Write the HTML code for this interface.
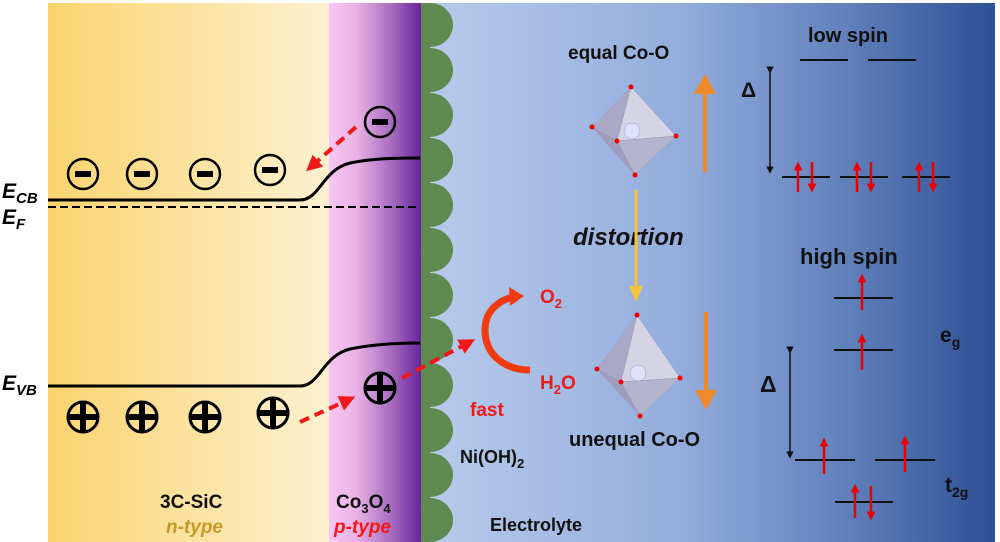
<!DOCTYPE html>
<html><head><meta charset="utf-8"><style>
html,body{margin:0;padding:0;background:#fff;}
svg{display:block;}
text{font-family:"Liberation Sans",Arial,sans-serif;font-weight:bold;}
</style></head><body>
<svg width="1000" height="542" viewBox="0 0 1000 542" xmlns="http://www.w3.org/2000/svg">
<defs>
<linearGradient id="y" x1="0" x2="1"><stop offset="0" stop-color="#fbd46f"/><stop offset="1" stop-color="#fdf1d0"/></linearGradient>
<linearGradient id="p" x1="0" x2="1"><stop offset="0" stop-color="#f8c6f4"/><stop offset="0.3" stop-color="#eab2e4"/><stop offset="0.7" stop-color="#a267bd"/><stop offset="1" stop-color="#67249a"/></linearGradient>
<linearGradient id="b" x1="0" x2="1"><stop offset="0" stop-color="#b8cbeb"/><stop offset="0.45" stop-color="#94addd"/><stop offset="0.75" stop-color="#5f7fba"/><stop offset="1" stop-color="#2d4f94"/></linearGradient>
<marker id="ar" viewBox="0 0 10 10" markerWidth="4" markerHeight="4" refX="5" refY="5" orient="auto" markerUnits="strokeWidth"><path d="M0,0 L10,5 L0,10 z" fill="#f01818"/></marker>
<marker id="ak" viewBox="0 0 10 10" markerWidth="5" markerHeight="5" refX="5" refY="5" orient="auto"><path d="M0,0 L10,5 L0,10 z" fill="#111"/></marker>
<marker id="as" viewBox="0 0 10 10" markerWidth="3.5" markerHeight="3.5" refX="5" refY="5" orient="auto"><path d="M0,0 L10,5 L0,10 z" fill="#e00"/></marker>
</defs>
<rect x="48" y="3" width="281" height="539" fill="url(#y)"/>
<rect x="420" y="3" width="575" height="539" fill="url(#b)"/>
<g fill="#5e8a50">
<rect x="420" y="3" width="10" height="539"/>
<ellipse cx="430" cy="25" rx="23" ry="22"/><ellipse cx="430" cy="70" rx="23" ry="22"/><ellipse cx="430" cy="115" rx="23" ry="22"/><ellipse cx="430" cy="160" rx="23" ry="22"/><ellipse cx="430" cy="205" rx="23" ry="22"/><ellipse cx="430" cy="250" rx="23" ry="22"/><ellipse cx="430" cy="295" rx="23" ry="22"/><ellipse cx="430" cy="340" rx="23" ry="22"/><ellipse cx="430" cy="385" rx="23" ry="22"/><ellipse cx="430" cy="430" rx="23" ry="22"/><ellipse cx="430" cy="475" rx="23" ry="22"/><ellipse cx="430" cy="520" rx="23" ry="22"/>
</g>
<rect x="329" y="3" width="92" height="539" fill="url(#p)"/>
<!-- bands -->
<path d="M48,200 L300,200 C320,200 322,170 350,163 C375,158 400,158 420,158" stroke="#000" stroke-width="3" fill="none"/>
<line x1="48" y1="207" x2="420" y2="207" stroke="#000" stroke-width="2" stroke-dasharray="8,4"/>
<path d="M48,386 L300,386 C320,386 322,356 350,349 C375,344 400,343 420,343" stroke="#000" stroke-width="3" fill="none"/>
<text x="2" y="198" font-size="21" font-style="italic">E<tspan font-size="15" dy="5">CB</tspan></text>
<text x="2" y="224" font-size="21" font-style="italic">E<tspan font-size="15" dy="5">F</tspan></text>
<text x="2" y="390" font-size="21" font-style="italic">E<tspan font-size="15" dy="5">VB</tspan></text>
<g stroke="#000" stroke-width="2.5" fill="none">
<circle cx="83" cy="174" r="15"/><circle cx="142" cy="174" r="15"/><circle cx="205" cy="174" r="15"/><circle cx="270" cy="170" r="15"/><circle cx="380" cy="122" r="15"/>
</g>
<g fill="#000"><rect x="75" y="171" width="16" height="6"/><rect x="134" y="171" width="16" height="6"/><rect x="197" y="171" width="16" height="6"/><rect x="262" y="167" width="16" height="6"/><rect x="372" y="119" width="16" height="6"/></g>
<g stroke="#000" stroke-width="3" fill="none">
<circle cx="83" cy="417" r="15"/><circle cx="142" cy="417" r="15"/><circle cx="205" cy="417" r="15"/><circle cx="273" cy="413" r="15"/><circle cx="380" cy="388" r="15"/>
</g>
<g stroke="#000" stroke-width="6">
<line x1="69" y1="417" x2="97" y2="417"/><line x1="83" y1="403" x2="83" y2="431"/>
<line x1="128" y1="417" x2="156" y2="417"/><line x1="142" y1="403" x2="142" y2="431"/>
<line x1="191" y1="417" x2="219" y2="417"/><line x1="205" y1="403" x2="205" y2="431"/>
<line x1="259" y1="413" x2="287" y2="413"/><line x1="273" y1="399" x2="273" y2="427"/>
<line x1="366" y1="388" x2="394" y2="388"/><line x1="380" y1="374" x2="380" y2="402"/>
</g>
<g stroke="#f01818" stroke-width="4" stroke-dasharray="10,6" fill="none" marker-end="url(#ar)">
<line x1="356" y1="127" x2="312" y2="166"/>
<line x1="300" y1="422" x2="348" y2="400"/>
<line x1="402" y1="378" x2="468" y2="343"/>
</g>
<path d="M530,370 C505,370 485,355 485,330 C485,310 500,300 513,297" stroke="#f03a10" stroke-width="7" fill="none"/>
<path d="M509,287 L524,296 L510,306 z" fill="#f03a10"/>
<text x="540" y="303" font-size="19" fill="#f01818">O<tspan font-size="13" dy="5">2</tspan></text>
<text x="540" y="389" font-size="19" fill="#f01818">H<tspan font-size="13" dy="5">2</tspan><tspan dy="-5">O</tspan></text>
<text x="470" y="416" font-size="19" fill="#f01818">fast</text>
<text x="460" y="463" font-size="18" fill="#111">Ni(OH)<tspan font-size="13" dy="5">2</tspan></text>
<text x="490" y="531" font-size="18" fill="#111">Electrolyte</text>
<text x="160" y="508" font-size="19" fill="#111">3C-SiC</text>
<text x="166" y="533" font-size="19" fill="#c49a2a" font-style="italic">n-type</text>
<text x="336" y="508" font-size="19" fill="#111">Co<tspan font-size="13" dy="5">3</tspan><tspan dy="-5">O</tspan><tspan font-size="13" dy="5">4</tspan></text>
<text x="334" y="533" font-size="19" fill="#f01818" font-style="italic">p-type</text>
<g stroke="#9a9ab8" stroke-width="0.5">
<path d="M631,87 L592,127 L617,141 z" fill="#a9a9c7"/>
<path d="M631,87 L617,141 L676,136 z" fill="#d4d4e4"/>
<path d="M592,127 L617,141 L635,175 z" fill="#9d9dbd"/>
<path d="M617,141 L676,136 L635,175 z" fill="#b4b4cf"/>
<circle cx="632" cy="131" r="8" fill="#dfe0fb"/>
<path d="M637,315 L597,369 L621,382 z" fill="#a9a9c7"/>
<path d="M637,315 L621,382 L680,378 z" fill="#d4d4e4"/>
<path d="M597,369 L621,382 L640,416 z" fill="#9d9dbd"/>
<path d="M621,382 L680,378 L640,416 z" fill="#b4b4cf"/>
<circle cx="638" cy="373" r="8" fill="#dfe0fb"/>
</g>
<g fill="#e00"><circle cx="631" cy="87" r="2.5"/><circle cx="592" cy="127" r="2.5"/><circle cx="676" cy="136" r="2.5"/><circle cx="635" cy="175" r="2.5"/><circle cx="617" cy="141" r="2.5"/><circle cx="637" cy="315" r="2.5"/><circle cx="597" cy="369" r="2.5"/><circle cx="680" cy="378" r="2.5"/><circle cx="640" cy="416" r="2.5"/><circle cx="621" cy="382" r="2.5"/></g>
<text x="568" y="59" font-size="19" fill="#111">equal Co-O</text>
<text x="569" y="446" font-size="20" fill="#111">unequal Co-O</text>
<text x="573" y="245" font-size="24" fill="#111" font-style="italic">distortion</text>
<line x1="705" y1="172" x2="705" y2="92" stroke="#f0892a" stroke-width="4"/>
<path d="M694,94 L705,74 L716,94 z" fill="#f0892a"/>
<line x1="706" y1="312" x2="706" y2="392" stroke="#f0892a" stroke-width="4"/>
<path d="M695,390 L706,410 L717,390 z" fill="#f0892a"/>
<line x1="636" y1="190" x2="636" y2="288" stroke="#f6c33a" stroke-width="3"/>
<path d="M629,286 L636,302 L643,286 z" fill="#f6c33a"/>
<text x="808" y="42" font-size="20" fill="#111">low spin</text>
<g stroke="#111" stroke-width="2"><line x1="800" y1="60" x2="848" y2="60"/><line x1="868" y1="60" x2="916" y2="60"/>
<line x1="782" y1="177" x2="830" y2="177"/><line x1="840" y1="177" x2="888" y2="177"/><line x1="902" y1="177" x2="950" y2="177"/>
<line x1="834" y1="298" x2="893" y2="298"/><line x1="834" y1="350" x2="893" y2="350"/>
<line x1="795" y1="460" x2="855" y2="460"/><line x1="875" y1="460" x2="935" y2="460"/><line x1="835" y1="502" x2="893" y2="502"/></g>
<line x1="770" y1="70" x2="770" y2="170" stroke="#111" stroke-width="1.5" marker-start="url(#ak)" marker-end="url(#ak)"/>
<text x="741" y="97" font-size="21" fill="#111" font-weight="normal">Δ</text>
<line x1="790" y1="350" x2="790" y2="455" stroke="#111" stroke-width="1.5" marker-start="url(#ak)" marker-end="url(#ak)"/>
<text x="760" y="392" font-size="23" fill="#111" font-weight="normal">Δ</text>
<g stroke="#e00" stroke-width="2.5">
<line x1="798" y1="192" x2="798" y2="166" marker-end="url(#as)"/><line x1="812" y1="162" x2="812" y2="188" marker-end="url(#as)"/>
<line x1="857" y1="192" x2="857" y2="166" marker-end="url(#as)"/><line x1="871" y1="162" x2="871" y2="188" marker-end="url(#as)"/>
<line x1="919" y1="192" x2="919" y2="166" marker-end="url(#as)"/><line x1="933" y1="162" x2="933" y2="188" marker-end="url(#as)"/>
<line x1="862" y1="310" x2="862" y2="278" marker-end="url(#as)"/>
<line x1="862" y1="370" x2="862" y2="338" marker-end="url(#as)"/>
<line x1="824" y1="474" x2="824" y2="442" marker-end="url(#as)"/>
<line x1="905" y1="472" x2="905" y2="440" marker-end="url(#as)"/>
<line x1="855" y1="518" x2="855" y2="488" marker-end="url(#as)"/><line x1="871" y1="486" x2="871" y2="516" marker-end="url(#as)"/>
</g>
<text x="800" y="264" font-size="22" fill="#111">high spin</text>
<text x="940" y="342" font-size="21" fill="#111">e<tspan font-size="14" dy="5">g</tspan></text>
<text x="945" y="492" font-size="21" fill="#111">t<tspan font-size="14" dy="5">2g</tspan></text>
</svg>
</body></html>
